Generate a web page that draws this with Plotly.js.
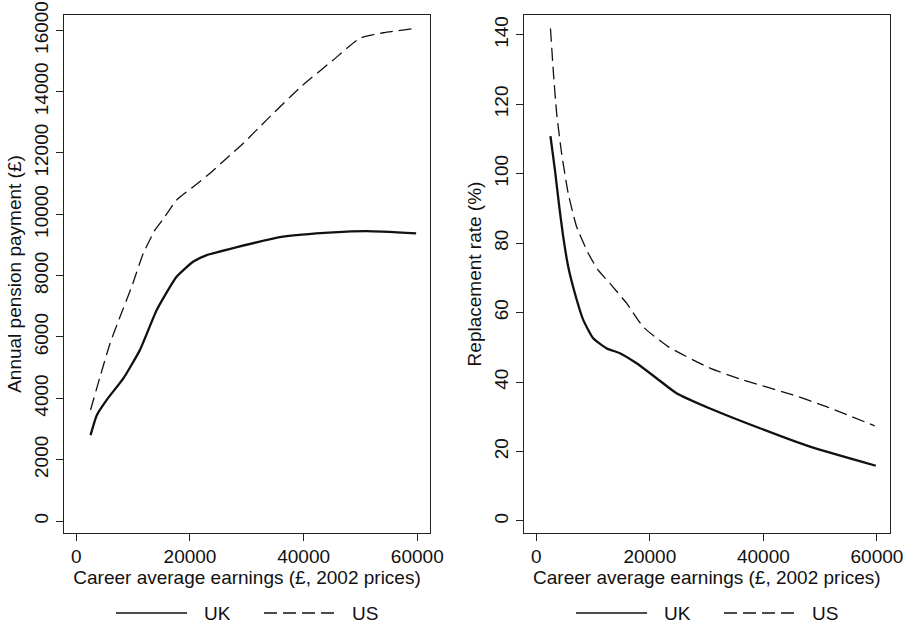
<!DOCTYPE html>
<html><head><meta charset="utf-8">
<script src="https://cdn.plot.ly/plotly-3.0.1.min.js"></script>
<style>html,body{margin:0;padding:0;background:#fff}</style>
</head><body>
<div id="chart" style="width:907px;height:625px"></div>
<script>
// Left panel: annual pension payment (£) vs career average earnings
const ukPayEarn = [2500, 3600, 5350, 8270, 11200, 14150, 17670, 20600, 22950, 26750, 36400, 45200, 51100, 59800];
const ukPay     = [2800, 3450, 3950, 4650, 5580, 6880, 7970, 8460, 8670, 8860, 9270, 9410, 9450, 9380];
const usPayEarn = [2500, 4170, 5930, 7690, 9740, 11790, 13850, 15310, 17670, 20590, 23530, 26460, 29390, 33500, 39400, 45200, 49900, 54000, 59600];
const usPay     = [3620, 4700, 5790, 6660, 7640, 8730, 9490, 9850, 10470, 10900, 11340, 11830, 12320, 13080, 14140, 15030, 15740, 15920, 16060];
// Right panel: replacement rate (%) vs career average earnings
const ukRateEarn = [2500, 3290, 4050, 4750, 5630, 6810, 8270, 10030, 12390, 14730, 17670, 21190, 24700, 30600, 39400, 48200, 59800];
const ukRate     = [110.8, 101.0, 90.5, 81.8, 73.2, 65.5, 57.9, 52.6, 49.7, 48.3, 45.4, 41.1, 36.8, 32.4, 26.7, 21.4, 15.9];
const usRateEarn = [2500, 2990, 3590, 4470, 5630, 7110, 9150, 10910, 12970, 15910, 18830, 23230, 30600, 36400, 45200, 51100, 59600];
const usRate     = [141.8, 129.8, 117.4, 105.8, 94.3, 84.7, 77.1, 72.2, 68.4, 62.7, 55.9, 50.2, 44.0, 40.6, 36.3, 32.9, 27.4];

const seriesNames = ["UK", "US"];
const xTicks = [0, 20000, 40000, 60000];
const payTicks = [0, 2000, 4000, 6000, 8000, 10000, 12000, 14000, 16000];
const rateTicks = [0, 20, 40, 60, 80, 100, 120, 140];
const xTitle = "Career average earnings (£, 2002 prices)";
const payTitle = "Annual pension payment (£)";
const rateTitle = "Replacement rate (%)";

const FONT = "Liberation Sans, Arial, sans-serif";
const ink = "#111";
const solid = {color: ink, width: 2.3, dash: "solid", shape: "spline", smoothing: 0.5};
const dashed = {color: ink, width: 1.3, dash: "13px,6px", shape: "spline", smoothing: 0.5};

const traces = [
  {x: ukPayEarn, y: ukPay, mode: "lines", name: seriesNames[0], line: solid, xaxis: "x", yaxis: "y"},
  {x: usPayEarn, y: usPay, mode: "lines", name: seriesNames[1], line: dashed, xaxis: "x", yaxis: "y"},
  {x: ukRateEarn, y: ukRate, mode: "lines", name: seriesNames[0], line: solid, xaxis: "x2", yaxis: "y2"},
  {x: usRateEarn, y: usRate, mode: "lines", name: seriesNames[1], line: dashed, xaxis: "x2", yaxis: "y2"}
];
traces.forEach(t => { t.hoverinfo = "skip"; t.showlegend = false; });

function xaxis(domain, anchor) {
  return {domain: domain, anchor: anchor, range: [-2165, 62240], tickvals: xTicks, ticktext: xTicks.map(String),
    showgrid: false, zeroline: false, showline: true, mirror: true, linecolor: "#222", linewidth: 1,
    ticks: "outside", ticklen: 7, tickcolor: "#222", tickfont: {family: FONT, size: 19, color: ink},
    title: {text: xTitle, font: {family: FONT, size: 19, color: ink}, standoff: 2}, automargin: false};
}
function yaxis(domain, anchor, range, ticks, title) {
  return {domain: domain, anchor: anchor, range: range, tickvals: ticks, ticktext: ticks.map(String),
    showgrid: false, zeroline: false, showline: true, mirror: true, linecolor: "#222", linewidth: 1,
    ticks: "outside", ticklen: 7, tickcolor: "#222", tickangle: -90, tickfont: {family: FONT, size: 19, color: ink},
    title: {text: title, font: {family: FONT, size: 19, color: ink}, standoff: 4}, automargin: false};
}

// Legend keys (one per panel), drawn as paper-space decorations
const W = 907, H = 625;
const legY = 1 - 613 / H;
const panelOffsets = [0, 460];
const shapes = [], annotations = [];
panelOffsets.forEach(off => {
  shapes.push({type: "line", xref: "paper", yref: "paper", x0: (off + 116) / W, x1: (off + 187) / W, y0: legY, y1: legY,
    line: {color: ink, width: 1.5, dash: "solid"}});
  shapes.push({type: "line", xref: "paper", yref: "paper", x0: (off + 264) / W, x1: (off + 336) / W, y0: legY, y1: legY,
    line: {color: ink, width: 1.5, dash: "13px,6px"}});
  annotations.push({xref: "paper", yref: "paper", x: (off + 202) / W, y: legY, xanchor: "left", yanchor: "middle",
    text: seriesNames[0], showarrow: false, font: {family: FONT, size: 19, color: ink}});
  annotations.push({xref: "paper", yref: "paper", x: (off + 350) / W, y: legY, xanchor: "left", yanchor: "middle",
    text: seriesNames[1], showarrow: false, font: {family: FONT, size: 19, color: ink}});
});

const yDom = [0.1477, 0.9755];
const layout = {
  width: W, height: H,
  margin: {l: 0, r: 0, t: 0, b: 0},
  paper_bgcolor: "#fff", plot_bgcolor: "#fff",
  font: {family: FONT, size: 19, color: ink},
  xaxis: xaxis([0.0706, 0.4741], "y"),
  yaxis: yaxis(yDom, "x", [-381, 16489], payTicks, payTitle),
  xaxis2: xaxis([0.5777, 0.9809], "y2"),
  yaxis2: yaxis(yDom, "x2", [-3.37, 145.6], rateTicks, rateTitle),
  showlegend: false,
  shapes: shapes,
  annotations: annotations
};

Plotly.newPlot("chart", traces, layout, {staticPlot: true, displayModeBar: false});
</script>
</body></html>
